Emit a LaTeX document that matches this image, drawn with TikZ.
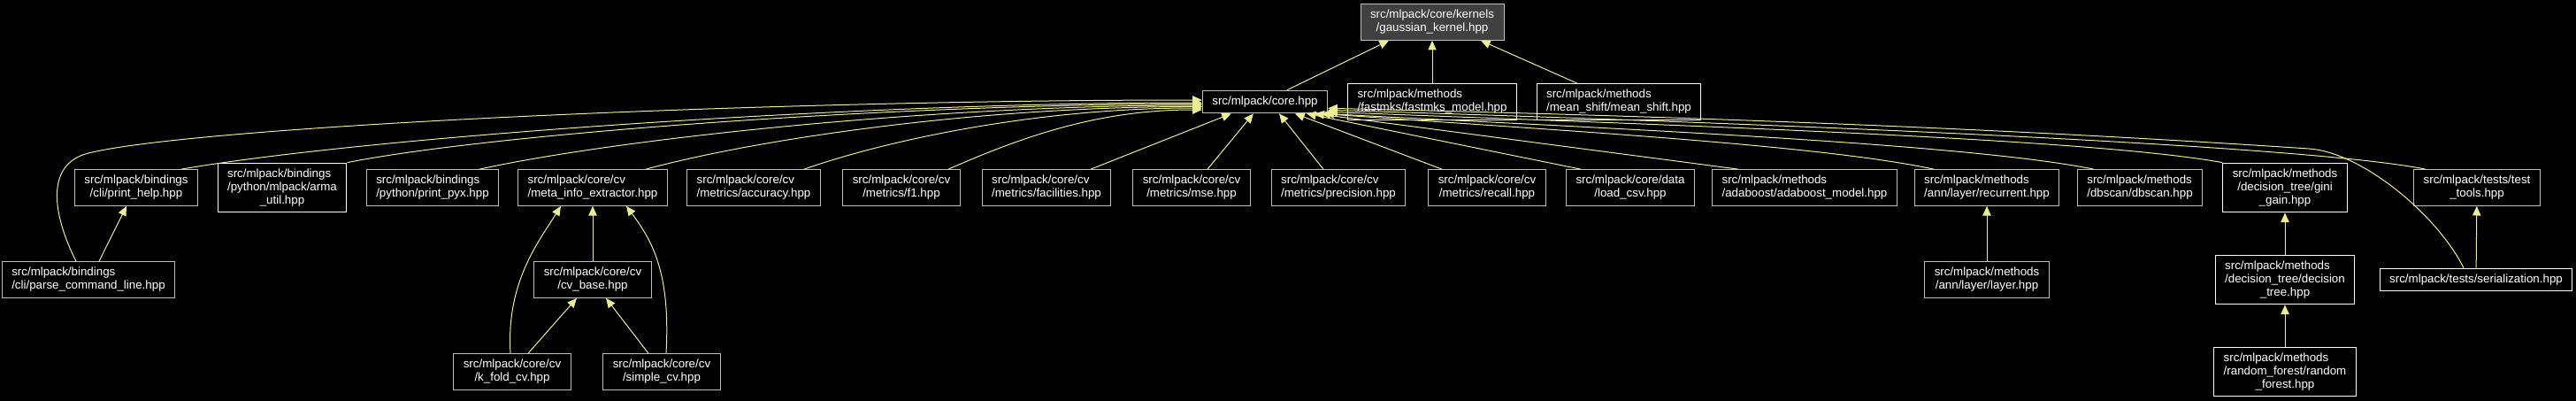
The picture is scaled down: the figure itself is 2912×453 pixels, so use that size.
\documentclass[tikz,border=0pt]{standalone}
\usepackage{fontspec}
\setmainfont{Liberation Sans}
\usetikzlibrary{arrows.meta}
\definecolor{edgeyel}{RGB}{236,236,146}
\definecolor{boxgrey}{RGB}{191,191,191}
\definecolor{rootfill}{RGB}{64,64,64}
% Labels: the first line flush left, the others centred
\newcommand{\hdrone}[1]{\begin{tabular}{@{}c@{}}#1\end{tabular}}
\newcommand{\hdrtwo}[2]{\begin{tabular}{@{}l@{}}#1\\\multicolumn{1}{@{}c@{}}{#2}\end{tabular}}
\newcommand{\hdrthree}[3]{\begin{tabular}{@{}l@{}}#1\\\multicolumn{1}{@{}c@{}}{#2}\\\multicolumn{1}{@{}c@{}}{#3}\end{tabular}}
\begin{document}
\begin{tikzpicture}[x=0.75pt,y=-0.75pt,
  file/.style={draw=boxgrey,line width=0.75pt,fill=black,text=white,
    inner xsep=8.25pt,inner ysep=4pt,font=\fontsize{10}{11.25}\selectfont},
  docfile/.style={file,draw=white},
  rootfile/.style={file,fill=rootfill},
  inc/.style={draw=edgeyel,line width=0.75pt,-{Triangle[length=8pt,width=7pt]}}]
\fill[black] (0,0) rectangle (2912,453);
\useasboundingbox (0,0) rectangle (2912,453);

% The header itself and the files that include it directly
\node[rootfile] (gaussian) at (1619,25) {\hdrtwo{src/mlpack/core/kernels}{/gaussian\_kernel.hpp}};
\node[file] (core) at (1430,115) {\hdrone{src/mlpack/core.hpp}};
\node[docfile] (fastmks) at (1619,115) {\hdrtwo{src/mlpack/methods}{/fastmks/fastmks\_model.hpp}};
\node[docfile] (meanshift) at (1830,115) {\hdrtwo{src/mlpack/methods}{/mean\_shift/mean\_shift.hpp}};

% Files that include core.hpp
\node[file] (printhelp) at (154,212) {\hdrtwo{src/mlpack/bindings}{/cli/print\_help.hpp}};
\node[docfile] (armautil) at (319,212) {\hdrthree{src/mlpack/bindings}{/python/mlpack/arma}{\_util.hpp}};
\node[file] (printpyx) at (489,212) {\hdrtwo{src/mlpack/bindings}{/python/print\_pyx.hpp}};
\node[file] (metainfo) at (670,212) {\hdrtwo{src/mlpack/core/cv}{/meta\_info\_extractor.hpp}};
\node[file] (accuracy) at (852,212) {\hdrtwo{src/mlpack/core/cv}{/metrics/accuracy.hpp}};
\node[file] (fone) at (1019,212) {\hdrtwo{src/mlpack/core/cv}{/metrics/f1.hpp}};
\node[file] (facilities) at (1183,212) {\hdrtwo{src/mlpack/core/cv}{/metrics/facilities.hpp}};
\node[file] (mse) at (1347,212) {\hdrtwo{src/mlpack/core/cv}{/metrics/mse.hpp}};
\node[file] (precision) at (1513,212) {\hdrtwo{src/mlpack/core/cv}{/metrics/precision.hpp}};
\node[file] (recall) at (1681,212) {\hdrtwo{src/mlpack/core/cv}{/metrics/recall.hpp}};
\node[file] (loadcsv) at (1843,212) {\hdrtwo{src/mlpack/core/data}{/load\_csv.hpp}};
\node[file] (adaboost) at (2040,212) {\hdrtwo{src/mlpack/methods}{/adaboost/adaboost\_model.hpp}};
\node[file] (recurrent) at (2246,212) {\hdrtwo{src/mlpack/methods}{/ann/layer/recurrent.hpp}};
\node[file] (dbscan) at (2419,212) {\hdrtwo{src/mlpack/methods}{/dbscan/dbscan.hpp}};
\node[docfile] (ginigain) at (2583,212) {\hdrthree{src/mlpack/methods}{/decision\_tree/gini}{\_gain.hpp}};
\node[file] (testtools) at (2800,212) {\hdrtwo{src/mlpack/tests/test}{\_tools.hpp}};

% Third and fourth rows
\node[file] (parsecmd) at (100,316) {\hdrtwo{src/mlpack/bindings}{/cli/parse\_command\_line.hpp}};
\node[file] (cvbase) at (670,316) {\hdrtwo{src/mlpack/core/cv}{/cv\_base.hpp}};
\node[file] (layer) at (2246,316) {\hdrtwo{src/mlpack/methods}{/ann/layer/layer.hpp}};
\node[docfile] (dectree) at (2583,316) {\hdrthree{src/mlpack/methods}{/decision\_tree/decision}{\_tree.hpp}};
\node[docfile] (serialization) at (2799,316) {\hdrone{src/mlpack/tests/serialization.hpp}};
\node[file] (kfold) at (579,420) {\hdrtwo{src/mlpack/core/cv}{/k\_fold\_cv.hpp}};
\node[file] (simplecv) at (748,420) {\hdrtwo{src/mlpack/core/cv}{/simple\_cv.hpp}};
\node[docfile] (randforest) at (2583,420) {\hdrthree{src/mlpack/methods}{/random\_forest/random}{\_forest.hpp}};

% Bends of the two long edges
\coordinate (pcbend) at (100,173);
\coordinate (serbend) at (2610,168);

% Edges into gaussian_kernel.hpp
\draw[inc] ([xshift=18.75pt]core.north) -- ([xshift=-36.75pt]gaussian.south);
\draw[inc] (fastmks) -- (gaussian);
\draw[inc] ([xshift=-35.25pt]meanshift.north) -- ([xshift=41.25pt]gaussian.south);

% Edges into core.hpp from the left
\draw[inc] ([xshift=-10.5pt]parsecmd.north) .. controls +(-28,-56) and +(-48,12) .. (pcbend)
  .. controls +(120,-30) and +(-500,0) .. ([yshift=1.5pt]core.west);
\draw[inc] ([xshift=38.25pt]printhelp.north) .. controls +(200,-35) and +(-400,0) .. ([yshift=-0.75pt]core.west);
\draw[inc] (armautil.north east) .. controls +(160,-32) and +(-350,0) .. ([yshift=-1.9pt]core.west);
\draw[inc] ([xshift=39.75pt]printpyx.north) .. controls +(160,-35) and +(-300,0) .. ([yshift=-3pt]core.west);
\draw[inc] ([xshift=45pt]metainfo.north) .. controls +(130,-35) and +(-250,0) .. ([yshift=-4.1pt]core.west);
\draw[inc] ([xshift=42.75pt]accuracy.north) .. controls +(100,-35) and +(-180,0) .. ([yshift=-5.25pt]core.west);
\draw[inc] ([xshift=39.75pt]fone.north) .. controls +(80,-35) and +(-120,0) .. ([yshift=-6.75pt]core.west);
\draw[inc] ([xshift=37.5pt]facilities.north) -- ([xshift=24.75pt]core.south west);

% Edges into core.hpp from below
\draw[inc] ([xshift=13.5pt]mse.north) -- ([xshift=43.5pt]core.south west);
\draw[inc] ([xshift=-12.75pt]precision.north) -- ([xshift=12pt]core.south);
\draw[inc] ([xshift=-38.25pt]recall.north) -- ([xshift=25.5pt]core.south);
\draw[inc] ([xshift=-42pt]loadcsv.north) -- ([xshift=35.25pt]core.south);
\draw[inc] ([xshift=-56.25pt]adaboost.north) -- ([xshift=-11.25pt]core.south east);

% Edges into core.hpp from the right
\draw[inc] ([xshift=-45pt]recurrent.north) .. controls +(-130,-28) and +(250,18) .. ([xshift=-6pt]core.south east);
\draw[inc] ([xshift=-39pt]dbscan.north) .. controls +(-150,-30) and +(300,16) .. ([xshift=-3pt]core.south east);
\draw[inc] (ginigain.north west) .. controls +(-150,-28) and +(350,14) .. ([yshift=1.5pt]core.south east);
\draw[inc] ([xshift=-43.5pt]testtools.north) .. controls +(-150,-30) and +(400,12) .. ([yshift=3pt]core.south east);
\draw[inc] ([xshift=-10.5pt]serialization.north) .. controls +(-30,-60) and +(60,4) .. (serbend)
  .. controls +(-300,-20) and +(450,10) .. ([yshift=4.5pt]core.south east);

% Cross validation headers
\draw[inc] (cvbase) -- (metainfo);
\draw[inc] ([xshift=13.5pt]kfold.north) -- ([xshift=-13.5pt]cvbase.south);
\draw[inc] ([xshift=-11.25pt]simplecv.north) -- ([xshift=11.25pt]cvbase.south);
\draw[inc] ([xshift=-1.5pt]kfold.north) .. controls +(-5,-80) and +(-25,40) .. ([xshift=-27pt]metainfo.south);
\draw[inc] ([xshift=3.75pt]simplecv.north) .. controls +(5,-90) and +(30,40) .. ([xshift=28.5pt]metainfo.south);

% Remaining short edges
\draw[inc] ([xshift=9pt]parsecmd.north) -- ([xshift=-8.25pt]printhelp.south);
\draw[inc] (serialization) -- (testtools);
\draw[inc] (layer) -- (recurrent);
\draw[inc] (dectree) -- (ginigain);
\draw[inc] (randforest) -- (dectree);

\end{tikzpicture}
\end{document}
